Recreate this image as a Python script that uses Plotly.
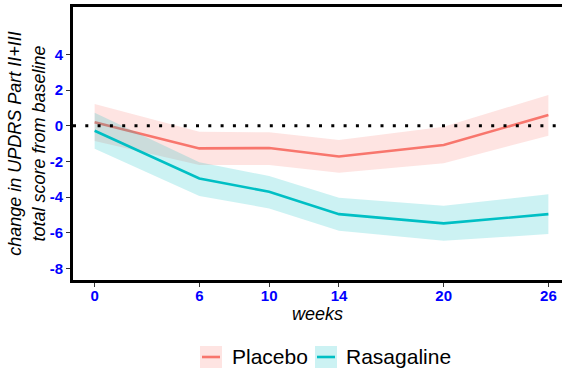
import plotly.graph_objects as go

weeks = [0, 6, 10, 14, 20, 26]
placebo_mean = [0.2, -1.27, -1.25, -1.72, -1.08, 0.6]
placebo_lo = [-0.85, -2.2, -2.2, -2.63, -2.1, -0.56]
placebo_hi = [1.22, -0.34, -0.37, -0.8, -0.05, 1.72]
rasa_mean = [-0.28, -2.95, -3.7, -4.95, -5.47, -4.95]
rasa_lo = [-1.29, -3.94, -4.63, -5.88, -6.44, -6.07]
rasa_hi = [0.73, -2.05, -2.82, -4.03, -4.48, -3.84]
x_ticks = [0, 6, 10, 14, 20, 26]
y_ticks = [-8, -6, -4, -2, 0, 2, 4]
series_names = ["Placebo", "Rasagaline"]

FONT = "Liberation Sans, Arial, sans-serif"
series = [
    (series_names[0], placebo_mean, placebo_lo, placebo_hi, "#F8766D", "rgba(248,118,109,0.2)"),
    (series_names[1], rasa_mean, rasa_lo, rasa_hi, "#00BFC4", "rgba(0,191,196,0.2)"),
]

fig = go.Figure()
for name, m, lo, hi, col, fcol in series:
    fig.add_trace(go.Scatter(x=weeks, y=lo, mode="lines", line=dict(width=0, color=fcol),
                             showlegend=False, hoverinfo="skip"))
    fig.add_trace(go.Scatter(x=weeks, y=hi, mode="lines", line=dict(width=0, color=fcol),
                             fill="tonexty", fillcolor=fcol, showlegend=False, hoverinfo="skip"))
    fig.add_trace(go.Scatter(x=weeks, y=m, mode="lines", name=name,
                             line=dict(width=2.6, color=col), showlegend=False))

# reference line at zero
fig.add_shape(type="line", xref="paper", yref="y", x0=0, x1=1, y0=0, y1=0,
              line=dict(color="black", width=3, dash="3px,9.3px"))

# manual ggplot-style legend (pixel layout converted to paper coords)
W, H, L, B = 489.0, 273.0, 73.0, 280.0
def px(x):
    return (x - L) / W
def py(y):
    return (B - y) / H

legend_items = [(200, 230.7), (315, 345)]
for (name, m, lo, hi, col, fcol), (bx, tx) in zip(series, legend_items):
    fig.add_shape(type="rect", xref="paper", yref="paper", x0=px(bx), x1=px(bx + 22),
                  y0=py(368), y1=py(346), fillcolor=fcol, line=dict(width=0))
    fig.add_shape(type="line", xref="paper", yref="paper", x0=px(bx + 2), x1=px(bx + 20),
                  y0=py(357), y1=py(357), line=dict(color=col, width=2.6))
    fig.add_annotation(xref="paper", yref="paper", x=px(tx), y=py(357), text=name,
                       showarrow=False, xanchor="left", yanchor="middle", borderpad=0,
                       font=dict(family=FONT, size=21, color="black"))

tickfont = dict(family=FONT, size=15, color="blue")
fig.update_xaxes(range=[-1.24, 26.78], tickvals=x_ticks,
                 ticktext=["<b>%d</b>" % v for v in x_ticks],
                 showgrid=False, zeroline=False, showline=True, linecolor="black", linewidth=3,
                 mirror=True, ticks="outside", ticklen=4, tickwidth=1, tickcolor="#333333",
                 tickfont=tickfont, ticklabelstandoff=-4,
                 title=dict(text="weeks", standoff=0,
                            font=dict(family=FONT, size=18, color="black", style="italic")))
fig.update_yaxes(range=[-8.64, 6.65], tickvals=y_ticks,
                 ticktext=["<b>%d</b>" % v for v in y_ticks],
                 showgrid=False, zeroline=False, showline=True, linecolor="black", linewidth=3,
                 mirror=False, ticks="outside", ticklen=4, tickwidth=1, tickcolor="#333333",
                 tickfont=tickfont,
                 title=dict(text="change in UPDRS Part II+III<br>total score from baseline", standoff=0,
                            font=dict(family=FONT, size=18, color="black", style="italic")))

fig.update_layout(
    width=562, height=371,
    margin=dict(l=73, r=0, t=7, b=91),
    plot_bgcolor="white", paper_bgcolor="white",
    font=dict(family=FONT),
    showlegend=False,
)

fig.write_html("out.html")
